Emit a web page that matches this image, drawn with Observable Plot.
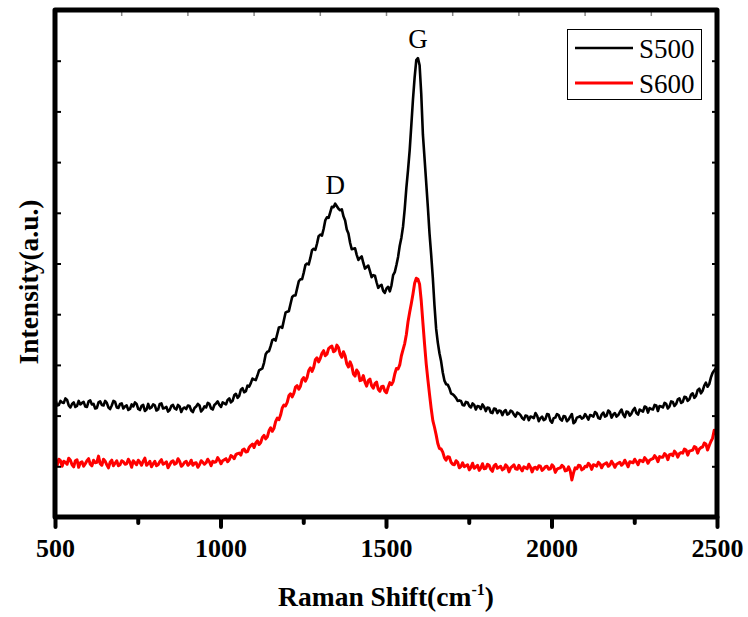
<!DOCTYPE html>
<html>
<head>
<meta charset="utf-8">
<script src="https://cdn.jsdelivr.net/npm/d3@7"></script>
<script src="https://cdn.jsdelivr.net/npm/@observablehq/plot@0.6"></script>
<style>
  html, body { margin: 0; padding: 0; background: #fff; }
</style>
</head>
<body>
<script>
// Raman shift sampling (cm-1), main grid
const wavenumber = [
  500,510,520,530,540,550,560,570,580,590,600,610,620,630,640,650,660,670,680,690,
  700,710,720,730,740,750,760,770,780,790,800,810,820,830,840,850,860,870,880,890,
  900,910,920,930,940,950,960,970,980,990,1000,1010,1020,1030,1040,1050,1060,1070,1080,1090,
  1100,1110,1120,1130,1140,1150,1160,1170,1180,1190,1200,1210,1220,1230,1240,1250,1260,1270,1280,1290,
  1300,1310,1320,1330,1340,1350,1360,1370,1380,1390,1400,1410,1420,1430,1440,1450,1460,1470,1480,1490,
  1500,1510,1520,1530,1540,1550,1560,1570,1580,1590,1600,1610,1620,1630,1640,1650,1660,1670,1680,1690,
  1700,1710,1720,1730,1740,1750,1760,1770,1780,1790,1800,1810,1820,1830,1840,1850,1860,1870,1880,1890,
  1900,1910,1920,1930,1940,1950,1960,1970,1980,1990,2000,2010,2020,2030,2040,2050,2060,2070,2080,2090,
  2100,2110,2120,2130,2140,2150,2160,2170,2180,2190,2200,2210,2220,2230,2240,2250,2260,2270,2280,2290,
  2300,2310,2320,2330,2340,2350,2360,2370,2380,2390,2400,2410,2420,2430,2440,2450,2460,2470,2480,2490,
  2500
];
// Raman shift sampling (cm-1), intermediate readings
const wavenumberMid = [
  505,515,525,535,545,555,565,575,585,595,605,615,625,635,645,655,665,675,685,695,
  705,715,725,735,745,755,765,775,785,795,805,815,825,835,845,855,865,875,885,895,
  905,915,925,935,945,955,965,975,985,995,1005,1015,1025,1035,1045,1055,1065,1075,1085,1095,
  1105,1115,1125,1135,1145,1155,1165,1175,1185,1195,1205,1215,1225,1235,1245,1255,1265,1275,1285,1295,
  1305,1315,1325,1335,1345,1355,1365,1375,1385,1395,1405,1415,1425,1435,1445,1455,1465,1475,1485,1495,
  1505,1515,1525,1535,1545,1555,1565,1575,1585,1595,1605,1615,1625,1635,1645,1655,1665,1675,1685,1695,
  1705,1715,1725,1735,1745,1755,1765,1775,1785,1795,1805,1815,1825,1835,1845,1855,1865,1875,1885,1895,
  1905,1915,1925,1935,1945,1955,1965,1975,1985,1995,2005,2015,2025,2035,2045,2055,2065,2075,2085,2095,
  2105,2115,2125,2135,2145,2155,2165,2175,2185,2195,2205,2215,2225,2235,2245,2255,2265,2275,2285,2295,
  2305,2315,2325,2335,2345,2355,2365,2375,2385,2395,2405,2415,2425,2435,2445,2455,2465,2475,2485,2495
];

// S500 intensity (a.u.) on the main grid
const s500 = [
  2.31,2.22,2.27,2.35,2.21,2.24,2.18,2.30,2.26,2.19,2.29,2.23,2.15,2.27,2.22,2.30,2.17,2.21,2.28,2.16,
  2.25,2.19,2.12,2.23,2.27,2.14,2.20,2.10,2.24,2.17,2.21,2.13,2.25,2.16,2.09,2.20,2.15,2.22,2.08,2.17,
  2.21,2.11,2.16,2.24,2.09,2.19,2.26,2.15,2.22,2.29,2.18,2.25,2.32,2.27,2.41,2.36,2.52,2.47,2.60,2.65,
  2.72,2.80,2.92,3.05,3.27,3.38,3.52,3.62,3.76,3.89,4.06,4.21,4.38,4.52,4.70,4.83,5.01,5.12,5.30,5.40,
  5.58,5.69,5.92,6.02,6.12,6.14,6.06,5.94,5.68,5.42,5.30,5.18,5.12,5.02,4.94,4.86,4.78,4.64,4.57,4.47,
  4.52,4.46,4.78,4.98,5.36,5.74,6.50,7.24,8.25,9.02,8.92,7.55,6.60,5.60,4.72,3.72,3.24,2.86,2.63,2.55,
  2.43,2.36,2.31,2.22,2.28,2.20,2.25,2.13,2.19,2.23,2.10,2.16,2.06,2.14,2.11,2.02,2.12,2.05,2.09,1.99,
  2.05,1.96,2.01,1.92,1.98,2.06,1.90,1.99,1.94,2.03,1.87,1.97,2.02,1.91,1.99,1.93,2.04,1.89,1.98,1.95,
  2.04,1.93,2.01,2.08,1.96,2.03,1.99,2.11,1.97,2.06,2.02,2.13,1.98,2.08,2.05,2.16,2.03,2.11,2.19,2.07,
  2.14,2.22,2.10,2.19,2.26,2.15,2.29,2.20,2.33,2.26,2.38,2.30,2.42,2.36,2.51,2.45,2.60,2.58,2.76,2.90,
  3.02
];
// S500 intensity (a.u.) at the intermediate readings
const s500Mid = [
  2.21,2.30,2.26,2.32,2.17,2.27,2.20,2.23,2.28,2.18,2.31,2.24,2.16,2.29,2.21,2.26,2.14,2.30,2.17,2.24,
  2.15,2.21,2.14,2.19,2.24,2.12,2.22,2.13,2.15,2.23,2.11,2.24,2.15,2.18,2.12,2.22,2.13,2.19,2.15,2.14,
  2.20,2.08,2.19,2.21,2.13,2.17,2.24,2.13,2.25,2.22,2.27,2.23,2.35,2.30,2.44,2.40,2.55,2.49,2.58,2.74,
  2.71,2.90,2.94,3.22,3.28,3.50,3.49,3.75,3.74,4.04,4.07,4.35,4.38,4.66,4.70,4.98,4.99,5.27,5.28,5.55,
  5.56,5.86,5.91,6.13,6.19,6.09,6.08,5.86,5.60,5.29,5.31,5.08,5.15,4.91,4.97,4.74,4.77,4.53,4.59,4.43,
  4.55,4.58,4.84,5.14,5.52,6.08,6.85,7.74,8.68,9.06,8.35,7.08,6.12,5.18,4.18,3.45,3.08,2.70,2.62,2.45,
  2.40,2.30,2.30,2.21,2.27,2.17,2.22,2.20,2.14,2.18,2.17,2.07,2.15,2.06,2.10,2.09,2.03,2.11,2.03,2.07,
  2.02,1.93,2.00,1.99,1.96,2.01,1.96,1.92,2.04,1.91,1.96,2.04,1.94,2.00,1.90,1.99,1.86,1.97,2.00,1.97,
  1.99,2.02,1.99,2.05,1.95,2.07,2.01,2.08,2.03,1.99,2.08,2.03,2.09,2.01,2.12,2.06,2.13,2.09,2.17,2.16,
  2.13,2.21,2.20,2.17,2.24,2.19,2.28,2.24,2.35,2.28,2.37,2.33,2.45,2.40,2.54,2.50,2.66,2.63,2.85,2.94
];

// S600 intensity (a.u.) on the main grid
const s600 = [
  1.06,1.15,1.01,1.09,1.17,1.04,1.12,0.99,1.10,1.06,1.16,1.02,1.08,1.21,1.03,1.11,0.98,1.13,1.07,1.02,
  1.12,1.05,1.15,0.99,1.08,1.13,1.03,1.17,1.06,1.00,1.11,1.04,1.14,1.07,0.98,1.10,1.05,1.16,1.01,1.09,
  1.03,1.13,1.07,0.99,1.12,1.05,1.15,1.02,1.09,1.18,1.06,1.14,1.10,1.22,1.16,1.26,1.23,1.35,1.30,1.42,
  1.38,1.51,1.48,1.62,1.59,1.77,1.76,1.96,2.02,2.22,2.27,2.44,2.45,2.60,2.59,2.76,2.76,2.95,2.96,3.15,
  3.14,3.29,3.22,3.36,3.27,3.40,3.22,3.27,3.03,3.07,2.83,2.91,2.70,2.80,2.59,2.73,2.55,2.67,2.49,2.59,
  2.46,2.66,2.68,2.94,3.01,3.31,3.61,4.05,4.41,4.72,4.60,3.84,3.03,2.43,1.91,1.63,1.36,1.29,1.13,1.19,
  1.05,1.12,0.98,1.08,1.02,0.94,1.07,1.00,0.93,1.06,0.97,1.03,0.91,1.05,0.99,0.94,1.04,0.90,1.01,0.96,
  1.03,0.92,0.98,1.05,0.90,0.99,1.02,0.93,1.00,0.95,1.04,0.89,0.97,1.03,0.92,1.00,0.74,0.98,1.03,0.94,
  1.01,1.07,0.95,1.03,1.09,0.98,1.06,1.01,1.11,0.99,1.07,1.03,1.13,1.00,1.09,1.15,1.04,1.12,1.18,1.07,
  1.15,1.22,1.10,1.19,1.26,1.14,1.25,1.31,1.19,1.28,1.35,1.23,1.32,1.40,1.27,1.38,1.47,1.33,1.50,1.72,
  1.52
];
// S600 intensity (a.u.) at the intermediate readings
const s600Mid = [
  1.03,1.12,1.11,1.05,1.13,1.00,1.14,1.08,1.01,1.12,1.05,1.13,1.09,1.06,1.15,1.04,1.09,1.02,1.12,1.04,
  1.10,1.06,1.09,1.12,1.04,1.09,1.11,1.03,1.11,1.06,1.02,1.10,1.05,1.10,1.04,1.12,1.07,1.11,1.04,1.11,
  1.06,1.03,1.08,1.04,1.09,1.08,1.10,1.11,1.10,1.13,1.12,1.16,1.14,1.20,1.24,1.27,1.33,1.29,1.38,1.45,
  1.47,1.44,1.58,1.55,1.71,1.70,1.89,1.93,2.16,2.20,2.40,2.38,2.57,2.53,2.72,2.69,2.90,2.88,3.11,3.07,
  3.24,3.19,3.33,3.38,3.29,3.35,3.16,3.19,2.97,2.99,2.79,2.86,2.71,2.67,2.70,2.60,2.64,2.53,2.58,2.49,
  2.57,2.62,2.83,2.93,3.19,3.43,3.86,4.22,4.62,4.70,4.27,3.42,2.72,2.15,1.78,1.46,1.35,1.18,1.20,1.09,
  1.04,1.09,1.01,1.00,1.04,0.99,0.97,1.03,0.98,0.96,1.05,0.95,1.02,0.97,1.01,0.96,1.00,0.98,1.04,0.95,
  0.97,1.00,0.96,0.99,0.98,0.95,1.01,0.96,1.01,0.96,1.00,0.95,0.98,1.00,0.93,0.92,0.88,0.96,1.02,0.96,
  1.00,1.03,1.04,1.01,1.06,1.04,1.08,1.04,1.06,1.05,1.09,1.06,1.07,1.10,1.08,1.10,1.13,1.10,1.14,1.13,
  1.16,1.18,1.20,1.19,1.23,1.24,1.22,1.27,1.26,1.27,1.33,1.31,1.33,1.38,1.35,1.39,1.45,1.42,1.56,1.68
];

const seriesNames = ["S500", "S600"];
const seriesColors = ["#000000", "#ff0000"];
const xMajorTicks = [500, 1000, 1500, 2000, 2500];
const xMinorTicks = [750, 1250, 1750, 2250];
const xTopTicks = [500, 700, 900, 1100, 1300, 1500, 1700, 1900, 2100, 2300, 2500];
const yTicks = [0, 1, 2, 3, 4, 5, 6, 7, 8, 9, 10];
const peakLabels = ["D", "G"];

const serif = "'Liberation Serif', 'Times New Roman', Times, serif";

function merge(xs, ys, xm, ym) {
  const a = xs.map((x, i) => ({x, y: ys[i]}));
  const b = xm.map((x, i) => ({x, y: ym[i]}));
  return a.concat(b).sort((p, q) => p.x - q.x);
}
const dataS500 = merge(wavenumber, s500, wavenumberMid, s500Mid);
const dataS600 = merge(wavenumber, s600, wavenumberMid, s600Mid);

// annotation anchors derived from the data: D band max (S500 below 1450) and G band max
const dBand = dataS500.filter(d => d.x < 1450);
const dPeak = dBand[d3.maxIndex(dBand, d => d.y)];
const gPeak = dataS500[d3.maxIndex(dataS500, d => d.y)];
const annotations = [
  {x: dPeak.x, y: dPeak.y, label: peakLabels[0]},
  {x: gPeak.x, y: gPeak.y, label: peakLabels[1]}
];

const W = 748, H = 617;
const mL = 55, mR = 31, mT = 10, mB = 100;

const svg = Plot.plot({
  width: W,
  height: H,
  marginLeft: mL,
  marginRight: mR,
  marginTop: mT,
  marginBottom: mB,
  style: {fontFamily: serif, fontSize: "26px", background: "#fff", overflow: "visible"},
  x: {domain: [500, 2500]},
  y: {domain: [0, 10]},
  marks: [
    Plot.lineY(dataS500, {x: "x", y: "y", stroke: seriesColors[0], strokeWidth: 2.6}),
    Plot.lineY(dataS600, {x: "x", y: "y", stroke: seriesColors[1], strokeWidth: 3}),
    Plot.text(annotations, {x: "x", y: "y", text: "label", dy: -10, lineAnchor: "bottom",
      fontFamily: serif, fontSize: 27, fill: "#000"}),
    // y ticks inward, no labels
    Plot.axisY({anchor: "left", ticks: yTicks, tickSize: 6, dx: 6, tickFormat: () => "", label: null, strokeWidth: 2}),
    Plot.axisY({anchor: "right", ticks: yTicks, tickSize: 6, dx: -6, tickFormat: () => "", label: null, strokeWidth: 2}),
    // faint top ticks
    Plot.axisX({anchor: "top", ticks: xTopTicks, tickSize: 5, dy: 5, tickFormat: () => "", label: null, strokeWidth: 1.5, stroke: "#888"}),
    // bottom minor ticks
    Plot.axisX({anchor: "bottom", ticks: xMinorTicks, tickSize: 6, tickFormat: () => "", label: null, strokeWidth: 4, strokeLinecap: "round"}),
    // bottom major ticks with labels
    Plot.axisX({anchor: "bottom", ticks: xMajorTicks, tickSize: 10, tickPadding: 11, tickFormat: d => String(d),
      label: null, strokeWidth: 4, strokeLinecap: "round", fontSize: 26, fontWeight: "bold", fontFamily: serif, fill: "#000"})
  ]
});

document.body.appendChild(svg);

const s = d3.select(svg);

// plot frame
s.append("rect")
  .attr("x", mL).attr("y", mT)
  .attr("width", W - mL - mR).attr("height", H - mT - mB)
  .attr("fill", "none").attr("stroke", "#000").attr("stroke-width", 5)
  .attr("stroke-linejoin", "round");

// x axis label with superscript
const xl = s.append("text")
  .attr("x", mL + (W - mL - mR) / 2)
  .attr("y", 606)
  .attr("text-anchor", "middle")
  .attr("font-family", serif)
  .attr("font-weight", "bold")
  .attr("font-size", 27.5)
  .attr("fill", "#000");
xl.append("tspan").text("Raman Shift(cm");
xl.append("tspan").attr("font-size", 16).attr("dy", -11).text("-1");
xl.append("tspan").attr("dy", 11).text(")");

// y axis label
s.append("text")
  .attr("transform", "translate(38,282) rotate(-90)")
  .attr("text-anchor", "middle")
  .attr("font-family", serif)
  .attr("font-weight", "bold")
  .attr("font-size", 27.5)
  .attr("fill", "#000")
  .text("Intensity(a.u.)");

// legend box
const lg = s.append("g");
lg.append("rect")
  .attr("x", 567.5).attr("y", 29.5).attr("width", 134).attr("height", 70)
  .attr("fill", "#fff").attr("stroke", "#000").attr("stroke-width", 1);
seriesNames.forEach((name, i) => {
  const cy = 48 + i * 35;
  lg.append("line")
    .attr("x1", 575).attr("x2", 633).attr("y1", cy).attr("y2", cy)
    .attr("stroke", seriesColors[i]).attr("stroke-width", i === 0 ? 2.4 : 2.8);
  lg.append("text")
    .attr("x", 639).attr("y", cy + 10)
    .attr("text-anchor", "start")
    .attr("font-family", serif).attr("font-size", 27).attr("fill", "#000")
    .text(name);
});
</script>
</body>
</html>
